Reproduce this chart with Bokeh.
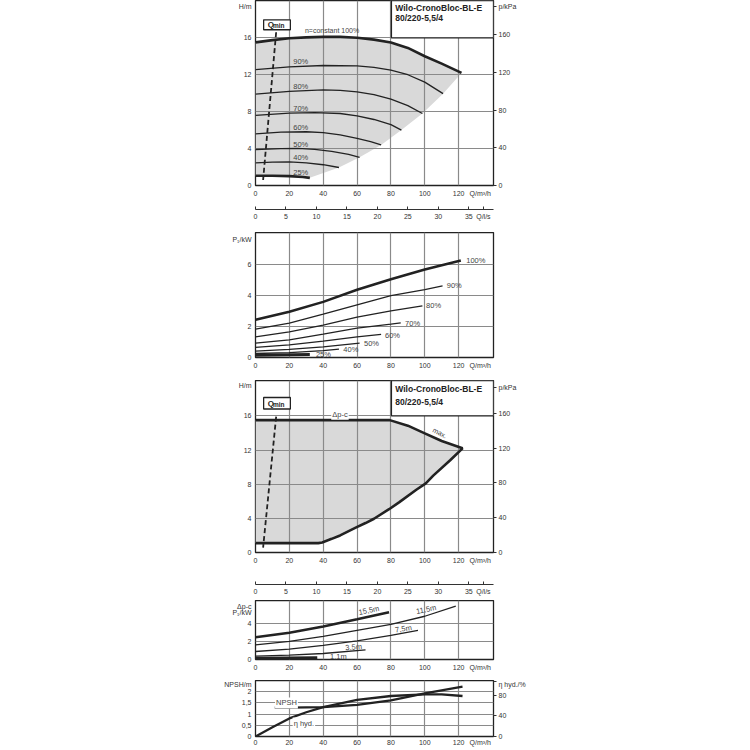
from bokeh.plotting import figure
from bokeh.models import Range1d, LinearAxis, Label, FixedTicker
from bokeh.layouts import column
from bokeh.embed import file_html
from bokeh.resources import INLINE

FONT = "Liberation Sans"
INK = "#222222"
GRID = "#8a8a8a"
FILL = "#d9d9d9"
Q_MAX = 140.6

q_ticks = [0, 20, 40, 60, 80, 100, 120]
ls_ticks = [0, 5, 10, 15, 20, 25, 30, 35]
title_1 = "Wilo-CronoBloc-BL-E"
title_2 = "80/220-5,5/4"

# panel 1: head per speed (Q m3/h, H m)
q_100 = [0, 10, 20, 30, 40, 50, 60, 70, 80, 90, 100, 110, 121.7]
h_100 = [15.5, 15.75, 15.95, 16.05, 16.1, 16.1, 16.0, 15.8, 15.5, 14.9, 14.0, 13.2, 12.2]
q_90 = [0, 20, 40, 60, 70, 80, 90, 100, 110.8]
h_90 = [12.55, 12.85, 13.0, 12.95, 12.8, 12.5, 12.0, 11.2, 9.95]
q_80 = [0, 20, 40, 50, 60, 70, 80, 90, 98.6]
h_80 = [9.9, 10.2, 10.35, 10.3, 10.15, 9.85, 9.35, 8.65, 7.8]
q_70 = [0, 20, 35, 50, 60, 70, 80, 86.2]
h_70 = [7.6, 7.85, 7.9, 7.8, 7.55, 7.15, 6.6, 6.0]
q_60 = [0, 15, 30, 40, 50, 60, 68, 74.2]
h_60 = [5.6, 5.78, 5.82, 5.72, 5.48, 5.1, 4.75, 4.4]
q_50 = [0, 15, 25, 35, 45, 55, 61.5]
h_50 = [3.9, 4.0, 4.02, 3.92, 3.7, 3.38, 3.05]
q_40 = [0, 10, 20, 30, 40, 49.3]
h_40 = [2.45, 2.53, 2.55, 2.45, 2.25, 1.95]
q_25 = [0, 10, 20, 28, 32.1]
h_25 = [1.05, 1.06, 1.02, 0.92, 0.83]
speed_labels = ["90%", "80%", "70%", "60%", "50%", "40%", "25%"]
speed_label_h = [13.4, 10.7, 8.3, 6.3, 4.45, 3.0, 1.45]

# panel 2: power P1 per speed (kW)
pq_100 = [0, 20, 40, 60, 80, 100, 121.3]
pp_100 = [2.44, 2.96, 3.6, 4.38, 5.07, 5.7, 6.28]
pq_90 = [0, 20, 40, 60, 80, 100, 110.5]
pp_90 = [1.83, 2.22, 2.8, 3.41, 4.0, 4.4, 4.64]
pq_80 = [0, 20, 40, 60, 80, 98.6]
pp_80 = [1.34, 1.66, 2.09, 2.61, 3.02, 3.34]
pq_70 = [0, 20, 40, 60, 80, 85.8]
pp_70 = [0.93, 1.14, 1.51, 1.9, 2.16, 2.24]
pq_60 = [0, 20, 40, 60, 74.2]
pp_60 = [0.65, 0.82, 1.06, 1.34, 1.49]
pq_50 = [0, 20, 40, 61.5]
pp_50 = [0.41, 0.52, 0.69, 0.93]
pq_40 = [0, 20, 40, 49.3]
pp_40 = [0.26, 0.32, 0.45, 0.54]
pq_25 = [0, 32.1]
pp_25 = [0.15, 0.2]
power_labels = ["100%", "90%", "80%", "70%", "60%", "50%", "40%", "25%"]
power_label_q = [123.9, 112.4, 100.2, 87.8, 75.9, 63.5, 51.3, 35.1]
power_label_p = [6.28, 4.64, 3.34, 2.22, 1.45, 0.88, 0.5, 0.18]

# panel 3: dp-c envelope
env_top_q = [0, 79.3, 90, 100, 110, 122.3]
env_top_h = [15.5, 15.5, 14.85, 13.95, 13.05, 12.2]
env_low_q = [122.3, 115, 105, 100.6, 95, 85, 78.9, 70, 65, 59.2, 50, 45, 39.4, 37.1, 0]
env_low_h = [12.2, 10.8, 9.0, 8.1, 7.35, 5.9, 5.07, 3.95, 3.45, 2.92, 2.0, 1.6, 1.17, 1.1, 1.1]

# panel 4: power on dp-c setpoints
c155_q = [0, 20, 40, 60, 78.9]
c155_p = [2.45, 2.93, 3.63, 4.43, 5.2]
c115_q = [0, 20, 40, 60, 80, 100, 118.3]
c115_p = [1.61, 1.98, 2.53, 3.19, 3.85, 4.75, 5.86]
c75_q = [0, 20, 40, 60, 80, 96]
c75_p = [0.88, 1.14, 1.54, 2.05, 2.64, 3.19]
c35_q = [0, 20, 40, 65]
c35_p = [0.37, 0.48, 0.66, 1.06]
c11_q = [0, 36.5]
c11_p = [0.14, 0.2]

# panel 5: NPSH and hydraulic efficiency
npsh_q = [11.4, 20, 40, 60, 80, 100, 122.3]
npsh_m = [1.29, 1.29, 1.31, 1.41, 1.61, 1.93, 2.23]
eta_q = [0, 10, 20, 30, 40, 60, 80, 100, 110, 122.3]
eta_pct = [0, 18, 35, 47, 57, 71, 78.5, 81.5, 81.8, 78.5]

# Qmin marker line
qmin_q = [12.2, 4.5]


def style_axis(ax, tick_out=0, tick_in=0, line=None, standoff=3):
    ax.axis_line_color = line
    ax.major_tick_out = tick_out
    ax.major_tick_in = tick_in
    ax.major_tick_line_color = "#333333"
    ax.minor_tick_line_color = None
    ax.major_label_text_font = FONT
    ax.major_label_text_font_size = "7px"
    ax.major_label_text_color = "#333333"
    ax.major_label_standoff = standoff


def titled(ax, ticks, extra, texts, overrides=None):
    # the axis title sits on an extra tick with an overridden label
    ax.ticker = ticks + extra
    labels = dict(overrides or {})
    labels.update(dict(zip(extra, texts)))
    ax.major_label_overrides = labels


def panel(frame_h, y_max, b_bottom, y_ticks):
    p = figure(frame_width=238, frame_height=frame_h,
               min_border_left=255, min_border_right=60,
               min_border_top=0, min_border_bottom=b_bottom,
               x_range=Range1d(0, Q_MAX), y_range=Range1d(0, y_max),
               output_backend="svg", toolbar_location=None)
    p.outline_line_color = INK
    p.outline_line_width = 1.3
    p.outline_line_alpha = 1
    p.xaxis.ticker = q_ticks
    p.yaxis.ticker = y_ticks
    p.xgrid.ticker = FixedTicker(ticks=q_ticks)
    p.ygrid.ticker = FixedTicker(ticks=y_ticks)
    style_axis(p.xaxis[0], standoff=4)
    style_axis(p.yaxis[0], standoff=4)
    p.grid.grid_line_color = GRID
    p.grid.grid_line_width = 1.2
    return p


def lab(p, x, y, text, size="7px", style="normal", align="left",
        baseline="middle", angle=0, color="#333333", bg=None):
    p.add_layout(Label(x=x, y=y, text=text, text_font=FONT,
                       text_font_size=size, text_font_style=style,
                       text_align=align, text_baseline=baseline,
                       angle=angle, angle_units="deg", text_color=color,
                       background_fill_color=bg, padding=1))


def right_axis(p, name, r_max, ticks, extra, text):
    p.extra_y_ranges = {name: Range1d(0, r_max)}
    ax = LinearAxis(y_range_name=name)
    titled(ax, ticks, extra, [text])
    style_axis(ax, tick_out=3, standoff=2)
    p.add_layout(ax, "right")


def ls_axis(p, gap):
    # pad the m3/h axis so that the l/s axis sits lower
    xa = p.xaxis[0]
    xa.axis_label = " "
    xa.axis_label_text_font_size = "7px"
    xa.axis_label_standoff = gap
    p.extra_x_ranges = {"ls": Range1d(0, Q_MAX / 3.6)}
    ax = LinearAxis(x_range_name="ls")
    titled(ax, ls_ticks, [37.4], ["Q/l/s"])
    style_axis(ax, tick_in=3, line="#333333", standoff=3)
    ax.axis_line_width = 1.2
    p.add_layout(ax, "below")


def title_box(p, y_bottom, y_top, y1, y2):
    p.quad(left=80.3, right=Q_MAX, bottom=y_bottom, top=y_top,
           fill_color="white", line_color=INK, line_width=1.3)
    lab(p, 82, y1, title_1, size="8.5px", style="bold", color=INK)
    lab(p, 82, y2, title_2, size="8.5px", style="bold", color=INK)


def qmin_box(p, b, t, hq, hmin, q_top, q_bot):
    p.line(qmin_q, [q_top, q_bot], line_color=INK, line_width=1.8,
           line_dash="5 3")
    p.quad(left=4.8, right=20.6, bottom=b, top=t, fill_color="white",
           line_color=INK, line_width=1.3)
    lab(p, 6.6, hq, "Q", size="8px", style="bold", color=INK)
    lab(p, 9.7, hmin, "min", size="6.5px", style="bold", color=INK)


# ---------- panel 1
p1 = panel(185, 20.04, 47, [0, 4, 8, 12, 16])
titled(p1.yaxis[0], [0, 4, 8, 12, 16], [19.4], ["H/m"])
titled(p1.xaxis[0], q_ticks, [132.8], ["Q/m³/h"])
right_axis(p1, "kpa", 196.6, [0, 40, 80, 120, 160], [190.3], "p/kPa")
ls_axis(p1, 0)
env_q = q_100 + q_90[-1:] + q_80[-1:] + q_70[-1:] + q_60[-1:] + q_50[-1:] + q_40[-1:] + q_25[::-1]
env_h = h_100 + h_90[-1:] + h_80[-1:] + h_70[-1:] + h_60[-1:] + h_50[-1:] + h_40[-1:] + h_25[::-1]
area = p1.patch(env_q, env_h, fill_color=FILL, line_color=None)
area.level = "image"
for qs, hs in [(q_90, h_90), (q_80, h_80), (q_70, h_70), (q_60, h_60), (q_50, h_50), (q_40, h_40)]:
    p1.line(qs, hs, line_color=INK, line_width=1.3)
p1.line(q_100, h_100, line_color=INK, line_width=2.6)
p1.line(q_25, h_25, line_color=INK, line_width=2.6)
for t, h in zip(speed_labels, speed_label_h):
    lab(p1, 21.7, h, t, size="7.5px", color="#444444")
lab(p1, 28.6, 16.8, "n=constant 100%", size="7px", color="#444444")
title_box(p1, 16, 20.04, 19.25, 18.1)
qmin_box(p1, 16.87, 17.95, 17.44, 17.3, 16.6, 0.6)

# ---------- panel 2
p2 = panel(125, 8.09, 23, [0, 2, 4, 6])
titled(p2.yaxis[0], [0, 2, 4, 6], [7.64], ["P₁/kW"])
titled(p2.xaxis[0], q_ticks, [132.8], ["Q/m³/h"])
for qs, ps in [(pq_90, pp_90), (pq_80, pp_80), (pq_70, pp_70), (pq_60, pp_60), (pq_50, pp_50), (pq_40, pp_40)]:
    p2.line(qs, ps, line_color=INK, line_width=1.3)
p2.line(pq_100, pp_100, line_color=INK, line_width=2.6)
p2.line(pq_25, pp_25, line_color=INK, line_width=3)
for t, q, pv in zip(power_labels, power_label_q, power_label_p):
    lab(p2, q, pv, t, size="7.5px", color="#444444")

# ---------- panel 3
p3 = panel(172, 20.14, 48, [0, 4, 8, 12, 16])
titled(p3.yaxis[0], [0, 4, 8, 12, 16], [19.5], ["H/m"])
titled(p3.xaxis[0], q_ticks, [132.8], ["Q/m³/h"])
right_axis(p3, "kpa", 197.6, [0, 40, 80, 120, 160], [189.3], "p/kPa")
ls_axis(p3, 8)
area3 = p3.patch(env_top_q + env_low_q, env_top_h + env_low_h, fill_color=FILL, line_color=None)
area3.level = "image"
p3.line(env_top_q + env_low_q, env_top_h + env_low_h, line_color=INK, line_width=2.6)
lab(p3, 49.9, 16.2, "Δp-c", size="7.5px", align="center", color="#444444", bg="white")
lab(p3, 108.9, 14.0, "max.", size="7px", align="center", angle=-27, color="#444444")
title_box(p3, 16, 20.14, 19.17, 17.6)
qmin_box(p3, 16.8, 18.15, 17.5, 17.35, 15.9, 0.58)

# ---------- panel 4
p4 = panel(59, 6.48, 21, [0, 2, 4])
titled(p4.yaxis[0], [0, 2, 4], [5.13, 5.82], ["P₁/kW", "Δp-c"])
titled(p4.xaxis[0], q_ticks, [132.8], ["Q/m³/h"])
p4.line(c115_q, c115_p, line_color=INK, line_width=1.3)
p4.line(c75_q, c75_p, line_color=INK, line_width=1.3)
p4.line(c35_q, c35_p, line_color=INK, line_width=1.3)
p4.line(c155_q, c155_p, line_color=INK, line_width=2.6)
p4.line(c11_q, c11_p, line_color=INK, line_width=3)
lab(p4, 67, 5.4, "15,5m", size="7.5px", align="center", angle=12, color="#444444")
lab(p4, 100.8, 5.5, "11,5m", size="7.5px", align="center", angle=12, color="#444444")
lab(p4, 87.4, 3.37, "7,5m", size="7.5px", align="center", angle=9, color="#444444")
lab(p4, 58, 1.36, "3,5m", size="7.5px", align="center", angle=5, color="#444444")
lab(p4, 49, 0.3, "1,1m", size="7.5px", align="center", color="#444444")

# ---------- panel 5
p5 = panel(56, 2.5, 13, [0, 0.5, 1, 1.5, 2])
titled(p5.yaxis[0], [0, 0.5, 1, 1.5, 2], [2.46], ["NPSH/m"],
       overrides={0.5: "0,5", 1.5: "1,5"})
titled(p5.xaxis[0], q_ticks, [132.8], ["Q/m³/h"])
p5.xaxis[0].major_label_standoff = 2
right_axis(p5, "eta", 108.5, [0, 40, 80], [106.7], "η hyd./%")
p5.line(npsh_q, npsh_m, line_color=INK, line_width=2.3)
p5.line(eta_q, eta_pct, y_range_name="eta", line_color=INK, line_width=2.3)
lab(p5, 18.3, 1.5, "NPSH", size="7.5px", align="center", color="#444444", bg="white")
lab(p5, 28.6, 0.6, "η hyd.", size="7.5px", align="center", color="#444444", bg="white")

layout = column(p1, p2, p3, p4, p5, spacing=0)
open("out.html", "w").write(file_html(layout, INLINE))
